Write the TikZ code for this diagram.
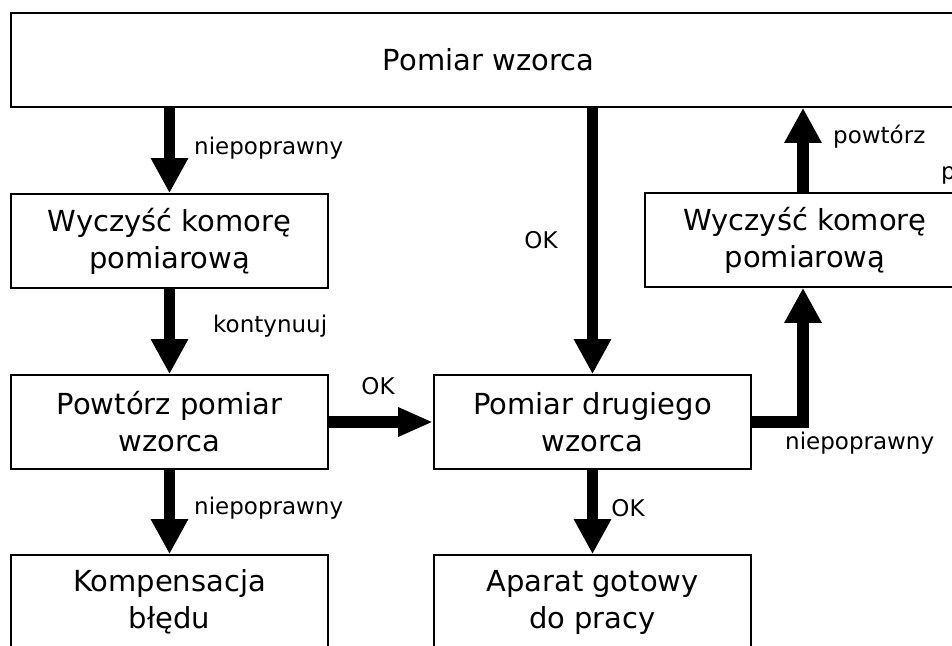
\documentclass[tikz,border=0pt]{standalone}
\usepackage{fontspec}
\setmainfont{DejaVu Sans}
\usetikzlibrary{arrows.meta}
\begin{document}
\begin{tikzpicture}[x=1pt,y=-1pt,
  box/.style={draw=black,line width=1.7pt,rectangle,minimum height=94pt,inner sep=0pt,
    align=center,font=\fontsize{29}{37}\selectfont},
  lbl/.style={inner sep=0pt,font=\fontsize{23}{26}\selectfont},
  bigarrow/.style={line width=11.5pt,-{Triangle[width=35pt,length=35pt]}},
  harrow/.style={line width=11.5pt,-{Triangle[width=27pt,length=35pt]}}]
\useasboundingbox (0,0) rectangle (952,645);
\begin{scope}
\clip (0,0) rectangle (952,645);
\node[box,minimum width=955pt] (top) at (488.5,60) {Pomiar wzorca};
\node[box,minimum width=317pt] (clean1) at (169.5,241) {Wyczyść komorę\\pomiarową};
\node[box,minimum width=317pt] (repeat) at (169.5,422) {Powtórz pomiar\\wzorca};
\node[box,minimum width=317pt] (second) at (592.5,422) {Pomiar drugiego\\wzorca};
\node[box,minimum width=320pt] (clean2) at (805,240) {Wyczyść komorę\\pomiarową};
\node[box,minimum width=317pt] (komp) at (169.5,602) {Kompensacja\\błędu};
\node[box,minimum width=317pt] (aparat) at (592.5,602) {Aparat gotowy\\do pracy};

\draw[bigarrow] (top.south -| clean1.north) -- (clean1.north);
\draw[bigarrow] (clean1.south) -- (repeat.north);
\draw[bigarrow] (repeat.south) -- (komp.north);
\draw[harrow] (repeat.east) -- (second.west);
\draw[bigarrow] (top.south -| second.north) -- (second.north);
\draw[bigarrow] (second.south) -- (aparat.north);
\draw[bigarrow] ([xshift=-2pt]clean2.north) -- ([xshift=-2pt]clean2.north |- top.south);
\draw[bigarrow] (second.east) -| ([xshift=-2pt]clean2.south);

\node[lbl,anchor=west] (l1) at (194,148) {niepoprawny};
\node[lbl,anchor=west] (l2) at (213,326) {kontynuuj};
\node[lbl,anchor=west] (l3) at (194,508) {niepoprawny};
\node[lbl] (l4) at (378,386) {OK};
\node[lbl] (l5) at (541,240) {OK};
\node[lbl] (l6) at (628,508) {OK};
\node[lbl,anchor=west] (l7) at (833,137) {powtórz};
\node[lbl,anchor=west] (l8) at (785,443) {niepoprawny};
\node[lbl,anchor=west] (l9) at (941,175) {p};
\end{scope}
\end{tikzpicture}
\end{document}
